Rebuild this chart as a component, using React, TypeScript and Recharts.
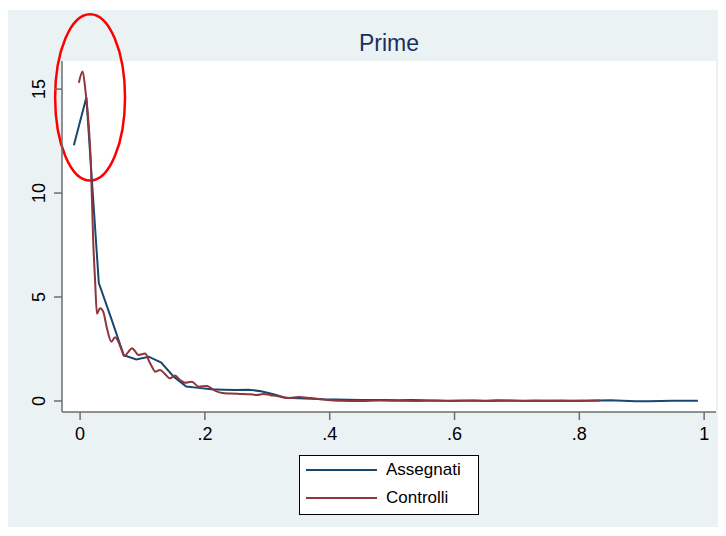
import React from "react";
import {
  LineChart,
  Line,
  XAxis,
  YAxis,
  CartesianGrid,
  Legend,
  ReferenceArea,
} from "recharts";

// Assegnati: x positions and density values
const assegnatiX = [
  -0.01, 0.01, 0.03, 0.05, 0.07, 0.09, 0.11, 0.13, 0.15, 0.17, 0.19, 0.21,
  0.23, 0.25, 0.27, 0.29, 0.31, 0.33, 0.35, 0.37, 0.39, 0.41, 0.43, 0.45,
  0.47, 0.49, 0.51, 0.53, 0.55, 0.57, 0.59, 0.61, 0.63, 0.65, 0.67, 0.69,
  0.71, 0.73, 0.75, 0.77, 0.79, 0.81, 0.83, 0.85, 0.87, 0.89, 0.91, 0.93,
  0.95, 0.97, 0.99,
];
const assegnatiY = [
  12.3, 14.6, 5.67, 3.96, 2.2, 2.0, 2.13, 1.85, 1.17, 0.7, 0.63, 0.56, 0.54,
  0.53, 0.54, 0.47, 0.32, 0.15, 0.13, 0.11, 0.08, 0.07, 0.06, 0.05, 0.05,
  0.05, 0.04, 0.05, 0.03, 0.02, 0.01, 0.02, 0.02, 0.01, 0.03, 0.02, 0.01,
  0.02, 0.01, 0.02, 0.01, 0.01, 0.02, 0.03, 0.01, -0.01, -0.01, 0.0, 0.01,
  0.01, 0.01,
];

// Controlli: x positions and density values
const controlliX = [
  -0.002, 0.004, 0.009, 0.014, 0.017, 0.021, 0.024, 0.027, 0.032, 0.037,
  0.043, 0.05, 0.056, 0.06, 0.066, 0.071, 0.077, 0.083, 0.088, 0.093, 0.099,
  0.104, 0.111, 0.116, 0.12, 0.128, 0.136, 0.144, 0.152, 0.16, 0.168, 0.179,
  0.19, 0.203, 0.216, 0.228, 0.24, 0.256, 0.272, 0.283, 0.294, 0.305, 0.315,
  0.334, 0.35, 0.369, 0.39, 0.417, 0.45, 0.48, 0.51, 0.54, 0.57, 0.6, 0.63,
  0.66, 0.69, 0.72, 0.75, 0.78, 0.81, 0.833,
];
const controlliY = [
  15.3, 15.85, 14.8, 13.2, 11.6, 7.7, 5.8, 4.2, 4.46, 4.3, 3.5, 2.85, 3.06,
  2.93, 2.5, 2.16, 2.35, 2.53, 2.4, 2.21, 2.25, 2.28, 1.89, 1.6, 1.41, 1.49,
  1.3, 1.09, 1.22, 1.01, 0.88, 0.93, 0.69, 0.72, 0.5, 0.38, 0.36, 0.34, 0.32,
  0.29, 0.34, 0.28, 0.24, 0.14, 0.19, 0.14, 0.07, 0.01, 0.0, 0.02, 0.01, 0.0,
  0.01, 0.0, 0.01, 0.0, 0.01, 0.0, 0.01, 0.0, 0.01, 0.02,
];

const xTicks = [0, 0.2, 0.4, 0.6, 0.8, 1];
const yTicks = [0, 5, 10, 15];

const assegnati = assegnatiX.map((x, i) => ({ x, y: assegnatiY[i] }));
const controlli = controlliX.map((x, i) => ({ x, y: controlliY[i] }));

const FONT = '"Liberation Sans", Arial, sans-serif';
const BLUE = "#1a476f";
const RED = "#90353b";
const BG = "#eaf2f3";

const fmtX = (v: number) => (v === 0 ? "0" : v === 1 ? "1" : String(v).replace(/^0/, ""));

const YTick = (props: any) => {
  const { y, payload } = props;
  return (
    <text
      x={31}
      y={y}
      dy="0.36em"
      transform={`rotate(-90, 31, ${y})`}
      textAnchor="middle"
      fontFamily={FONT}
      fontSize={18}
      fill="#000"
    >
      {payload.value}
    </text>
  );
};

const LegendBox = () => (
  <div
    style={{
      width: 178,
      height: 58,
      border: "1px solid #000",
      background: "#fff",
      fontFamily: FONT,
      fontSize: 17,
      position: "relative",
    }}
  >
    {[
      { name: "Assegnati", color: BLUE, top: 14 },
      { name: "Controlli", color: RED, top: 42 },
    ].map((r) => (
      <div key={r.name}>
        <div
          style={{
            position: "absolute",
            left: 6,
            top: r.top - 1,
            width: 71,
            height: 2,
            background: r.color,
          }}
        />
        <div
          style={{
            position: "absolute",
            left: 86,
            top: r.top - 10,
            lineHeight: "20px",
            color: "#000",
          }}
        >
          {r.name}
        </div>
      </div>
    ))}
  </div>
);

export default function App() {
  return (
    <div
      style={{
        width: 718,
        height: 517,
        marginTop: 2,
        background: BG,
        position: "relative",
      }}
    >
      <div
        style={{
          position: "absolute",
          left: 54,
          width: 654,
          top: 22,
          textAlign: "center",
          fontFamily: FONT,
          fontSize: 23,
          lineHeight: 1,
          color: "#1a2f5c",
          zIndex: 2,
        }}
      >
        Prime
      </div>
      <LineChart
        width={718}
        height={517}
        margin={{ top: 51, right: 10, left: 0, bottom: 12 }}
      >
        <rect x={54} y={51} width={654} height={351} fill="#fff" />
        <CartesianGrid vertical={false} stroke={BG} strokeWidth={1.5} fill="#fff" />
        <XAxis
          dataKey="x"
          type="number"
          domain={[-0.029, 1.019]}
          ticks={xTicks}
          tickFormatter={fmtX}
          allowDataOverflow
          height={43}
          tickSize={8}
          tickMargin={7}
          stroke="#6e6e6e"
          strokeWidth={1.5}
          tick={{ fontFamily: FONT, fontSize: 18, fill: "#000" }}
        />
        <YAxis
          dataKey="y"
          type="number"
          domain={[-0.53, 16.35]}
          ticks={yTicks}
          allowDataOverflow
          width={54}
          tickSize={8}
          stroke="#6e6e6e"
          strokeWidth={1.5}
          tick={<YTick />}
        />
        <Legend
          verticalAlign="bottom"
          content={() => <LegendBox />}
          wrapperStyle={{ left: 291, width: 180, bottom: 12 }}
        />
        <Line
          data={assegnati}
          dataKey="y"
          name="Assegnati"
          stroke={BLUE}
          strokeWidth={2}
          dot={false}
          type="linear"
          isAnimationActive={false}
        />
        <Line
          data={controlli}
          dataKey="y"
          name="Controlli"
          stroke={RED}
          strokeWidth={2}
          dot={false}
          type="monotone"
          isAnimationActive={false}
        />
        <ReferenceArea
          x1={-0.04}
          x2={0.072}
          y1={10.6}
          y2={18.6}
          ifOverflow="visible"
          shape={(p: any) => (
            <ellipse
              cx={p.x + p.width / 2}
              cy={p.y + p.height / 2}
              rx={Math.abs(p.width) / 2}
              ry={Math.abs(p.height) / 2}
              fill="none"
              stroke="#ff0000"
              strokeWidth={2.5}
            />
          )}
        />
      </LineChart>
    </div>
  );
}
